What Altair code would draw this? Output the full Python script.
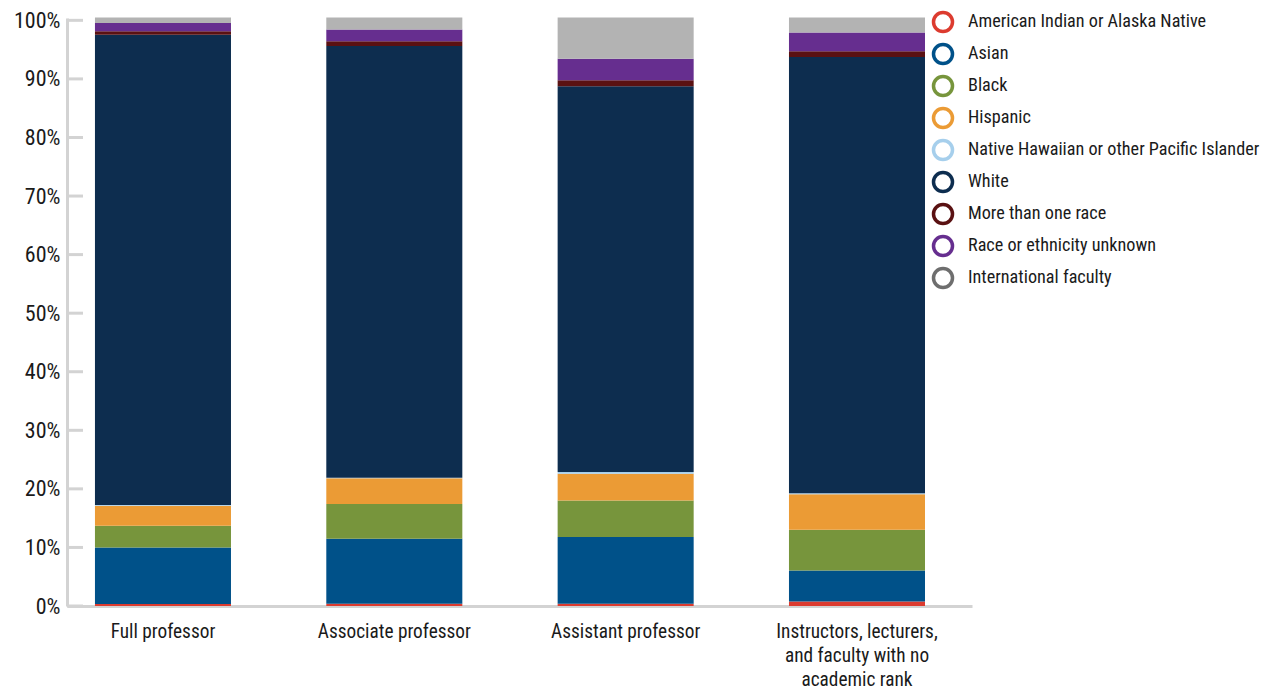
import altair as alt
import pandas as pd

ranks = ["Full professor", "Associate professor", "Assistant professor",
         "Instructors, lecturers, and faculty with no academic rank"]
races = ["American Indian or Alaska Native", "Asian", "Black", "Hispanic",
         "Native Hawaiian or other Pacific Islander", "White", "More than one race",
         "Race or ethnicity unknown", "International faculty"]
colors = ["#dc3b2f", "#005189", "#77953c", "#eb9b35", "#a6cfec", "#0d2d4f",
          "#5a1112", "#662e8f", "#b3b3b3"]
legend_colors = ["#dc3b2f", "#005189", "#77953c", "#eb9b35", "#a6cfec", "#0d2d4f",
                 "#5a1112", "#662e8f", "#6e6e6e"]

aian = [0.35, 0.4, 0.4, 0.75]
asian = [9.65, 11.1, 11.4, 5.3]
black = [3.7, 5.9, 6.2, 6.95]
hispanic = [3.4, 4.4, 4.6, 6.1]
nhpi = [0.15, 0.1, 0.3, 0.15]
white = [80.3, 73.7, 65.85, 74.5]
multi = [0.6, 0.85, 1.0, 0.96]
unknown = [1.4, 2.0, 3.7, 3.2]
intl = [0.95, 2.05, 7.05, 2.59]

tick_values = [0, 10, 20, 30, 40, 50, 60, 70, 80, 90, 100]

series = [aian, asian, black, hispanic, nhpi, white, multi, unknown, intl]
rows = []
for i, (race, vals) in enumerate(zip(races, series)):
    for rank, v in zip(ranks, vals):
        rows.append({"rank": rank, "race": race, "value": v, "order": i})
df = pd.DataFrame(rows)
ticks_df = pd.DataFrame({"v": tick_values})
legend_df = pd.DataFrame({"race": races})

FONT = "Liberation Sans Narrow, Roboto Condensed, Arial Narrow, Liberation Sans, sans-serif"
long_label = ranks[3]
YDOM = [0, 100.4]

bars = alt.Chart(df).mark_bar(stroke=None).encode(
    x=alt.X("rank:N", sort=ranks, title=None,
            scale=alt.Scale(paddingInner=0.412, paddingOuter=0.162, align=0.373),
            axis=alt.Axis(ticks=False, domainColor="#d3d3d3", domainWidth=3,
                          labelAngle=0, labelFontSize=19.3, labelColor="#1a1a1a",
                          labelFont=FONT, labelPadding=16, labelBaseline="top",
                          labelLineHeight=24,
                          labelExpr=f"datum.value == '{long_label}' ? ['Instructors, lecturers,', 'and faculty with no', 'academic rank'] : datum.value")),
    y=alt.Y("value:Q", stack="zero", title=None,
            scale=alt.Scale(domain=YDOM, nice=False),
            axis=alt.Axis(values=tick_values, labelExpr="datum.value + '%'",
                          ticks=False, grid=False, domainColor="#d3d3d3",
                          domainWidth=3, labelFontSize=22, labelColor="#1a1a1a",
                          labelFont=FONT, labelPadding=7)),
    color=alt.Color("race:N", scale=alt.Scale(domain=races, range=colors), legend=None),
    order=alt.Order("order:Q", sort="ascending"),
)

ticks = alt.Chart(ticks_df).mark_rule(color="#d3d3d3", strokeWidth=3).encode(
    y=alt.Y("v:Q", scale=alt.Scale(domain=YDOM, nice=False)),
    x=alt.value(0),
    x2=alt.value(16),
)

base_bars = alt.layer(bars, ticks)

leg_y = alt.Y("race:N", sort=races, axis=None,
              scale=alt.Scale(type="point", domain=races, range=[4, 260], padding=0))

leg_points = alt.Chart(legend_df).mark_point(
    shape="circle", filled=False, strokeWidth=3.5, size=361, opacity=1
).encode(
    y=leg_y,
    x=alt.value(876),
    stroke=alt.Stroke("race:N", scale=alt.Scale(domain=races, range=legend_colors), legend=None),
)

leg_text = alt.Chart(legend_df).mark_text(
    align="left", baseline="middle", fontSize=18.2, font=FONT, color="#1a1a1a"
).encode(
    y=leg_y,
    x=alt.value(901),
    text="race:N",
)

legend_layer = alt.layer(leg_points, leg_text)

chart = alt.layer(base_bars, legend_layer).resolve_scale(
    y="independent", color="independent", stroke="independent"
).resolve_axis(y="independent").properties(
    width=905, height=588,
    autosize=alt.AutoSizeParams(type="none"),
    padding={"left": 59, "top": 10, "right": 291, "bottom": 84},
).configure_view(stroke=None)

chart.save("out.html", embed_options={"renderer": "svg", "actions": False})
